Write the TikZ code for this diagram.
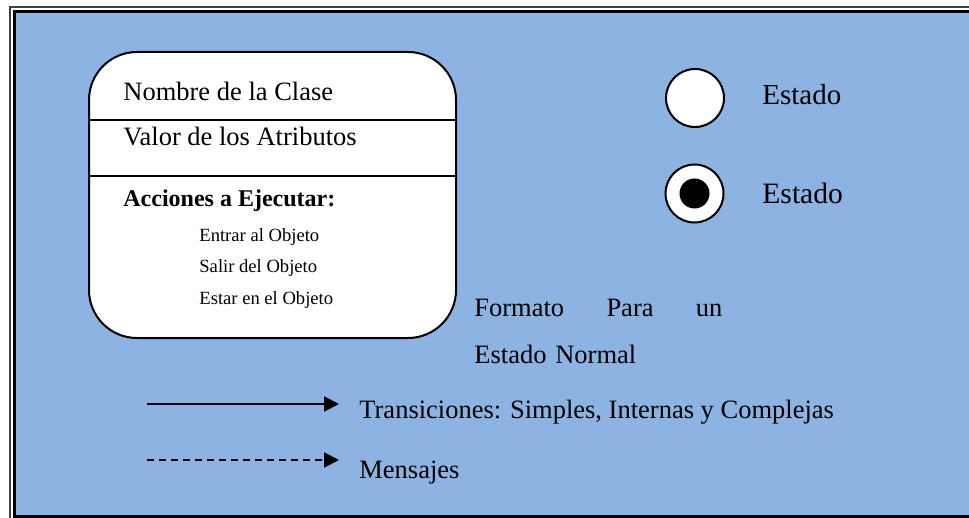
\documentclass[tikz,border=0pt]{standalone}
\usepackage{fontspec}
\setmainfont{Liberation Serif}
\usetikzlibrary{arrows.meta}
\definecolor{fondo}{RGB}{141,179,226}

\begin{document}
\begin{tikzpicture}[x=0.5pt, y=-0.5pt,
    txt/.style={anchor=base west, inner sep=0pt, font=\fontsize{13.25}{15}\selectfont},
    chico/.style={anchor=base west, inner sep=0pt, font=\fontsize{9.3}{11}\selectfont},
    flecha/.style={line width=1pt, -{Triangle[length=7.5pt, width=7.5pt]}},
    circ/.style={circle, draw, line width=1pt, fill=white, minimum size=29pt, inner sep=0pt}]
    \useasboundingbox (0,0) rectangle (969,518);
    \clip (0,0) rectangle (969,518);
    % marco
    \draw[line width=0.75pt, black!75] (10,7) rectangle (990,540);
    \draw[line width=1.5pt, fill=fondo] (14.5,11.5) rectangle (985,516);
    % estado normal
    \node[draw, line width=1pt, fill=white, rounded corners=24pt, minimum width=183.5pt, minimum height=143pt, inner sep=0pt] (estado) at (272.5,195) {};
    \coordinate (sep1) at (0,120);
    \coordinate (sep2) at (0,176);
    \draw[line width=1pt] (estado.west |- sep1) -- (estado.east |- sep1);
    \draw[line width=1pt] (estado.west |- sep2) -- (estado.east |- sep2);
    \node[txt] (nombre) at (123,101) {Nombre de la Clase};
    \node[txt] (valor) at (123,146) {Valor de los Atributos};
    \node[txt, font=\fontsize{12}{14}\selectfont\bfseries] (acciones) at (123,207) {Acciones a Ejecutar:};
    \node[chico] (entrar) at (199,242) {Entrar al Objeto};
    \node[chico] (salir) at (199,273) {Salir del Objeto};
    \node[chico] (estar) at (199,305) {Estar en el Objeto};
    \node[txt, font=\fontsize{13.25}{23.5}\selectfont, text width=124pt, align=left] (formato) at (474,316) {Formato\hfill Para\hfill un\\Estado Normal};
    % circulos
    \node[circ] (simple) at (695,98) {};
    \node[circ] (activo) at (694.5,193.5) {};
    \node[circle, fill=black, minimum size=15pt, inner sep=0pt] (punto) at (activo) {};
    \node[txt, font=\fontsize{14.5}{17}\selectfont] (lblsimple) at (762,105) {Estado};
    \node[txt, font=\fontsize{14.8}{17}\selectfont] (lblactivo) at (762,204) {Estado};
    % flechas
    \coordinate (t0) at (147,404);
    \coordinate (t1) at (339,404);
    \draw[flecha] (t0) -- (t1);
    \node[txt] (trans) at (359,418) {Transiciones: Simples, Internas y Complejas};
    \coordinate (m0) at (147,460);
    \coordinate (m1) at (339,460);
    \draw[flecha, dash pattern=on 3.5pt off 2.5pt] (m0) -- (m1);
    \node[txt] (mensajes) at (359,478) {Mensajes};
\end{tikzpicture}
\end{document}
